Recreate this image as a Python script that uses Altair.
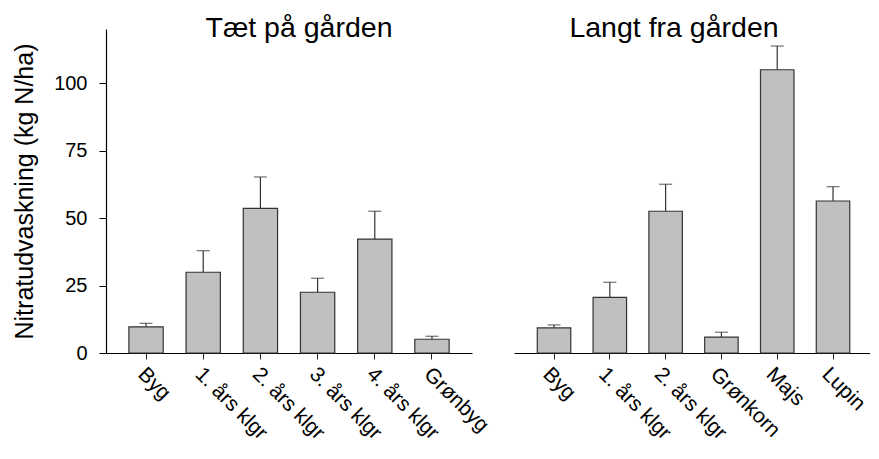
import altair as alt
import pandas as pd

FONT = "Liberation Sans"

near_crops = ["Byg", "1. års klgr", "2. års klgr", "3. års klgr", "4. års klgr", "Grønbyg"]
near_mean = [9.7, 29.9, 53.6, 22.5, 42.2, 5.1]
near_upper = [11.0, 37.9, 65.2, 27.7, 52.5, 6.2]

far_crops = ["Byg", "1. års klgr", "2. års klgr", "Grønkorn", "Majs", "Lupin"]
far_mean = [9.3, 20.6, 52.5, 5.9, 104.9, 56.3]
far_upper = [10.4, 26.2, 62.5, 7.7, 113.7, 61.6]

y_ticks = [0, 25, 50, 75, 100]
y_title = "Nitratudvaskning (kg N/ha)"


def panel(crops, mean, upper, title, title_dx, show_y, width, pad_outer, align, label_offset):
    df = pd.DataFrame({"crop": crops, "mean": mean, "upper": upper})
    x = alt.X(
        "crop:N",
        sort=crops,
        title=None,
        scale=alt.Scale(paddingInner=0.4, paddingOuter=pad_outer, align=align),
        axis=alt.Axis(
            labelAngle=45,
            labelAlign="left",
            labelBaseline="top",
            labelFontSize=21,
            labelFont=FONT,
            labelColor="black",
            labelPadding=4,
            labelOffset=label_offset,
            tickSize=6,
            tickColor="#222222",
            domainColor="black",
            domainWidth=1.2,
            grid=False,
        ),
    )
    yscale = alt.Scale(domain=[0, 120], nice=False, zero=True)
    if show_y:
        yaxis = alt.Axis(
            values=y_ticks,
            labelFontSize=20,
            labelFont=FONT,
            labelColor="black",
            labelPadding=12,
            tickSize=7,
            tickColor="black",
            domainColor="black",
            domainWidth=1.2,
            titleFont=FONT,
            titleFontSize=25,
            titleFontWeight="normal",
            titleColor="black",
            titlePadding=16,
            grid=False,
        )
    else:
        yaxis = None
    y = alt.Y("mean:Q", scale=yscale, axis=yaxis, title=y_title)
    base = alt.Chart(df)
    bars = base.mark_bar(color="#c0c0c0", stroke="#333333", strokeWidth=1.2).encode(x=x, y=y)
    err = base.mark_rule(color="#333333", strokeWidth=1.2).encode(
        x=x, y=y, y2=alt.Y2("upper:Q")
    )
    cap = base.mark_tick(color="#333333", size=13, thickness=1.2).encode(
        x=x, y=alt.Y("upper:Q", scale=yscale, axis=yaxis, title=y_title)
    )
    return alt.layer(bars, err, cap).properties(
        width=width,
        height=324,
        title=alt.TitleParams(
            title,
            font=FONT,
            fontSize=28.5,
            fontWeight="normal",
            color="black",
            anchor="middle",
            dx=title_dx,
            dy=8,
            offset=-28,
            baseline="alphabetic",
        ),
    )


left = panel(near_crops, near_mean, near_upper, "Tæt på gården", 10, True, 366, 0.4, 0.5, 3)
right = panel(far_crops, far_mean, far_upper, "Langt fra gården", -18, False, 356, 0.39, 0.535, 0)

chart = (
    alt.hconcat(left, right, spacing=42, bounds="flush")
    .properties(padding={"left": 4, "top": 5, "right": 0, "bottom": 0})
    .configure_view(stroke=None)
)

chart.save("out.html", embed_options={"renderer": "svg", "actions": False})
